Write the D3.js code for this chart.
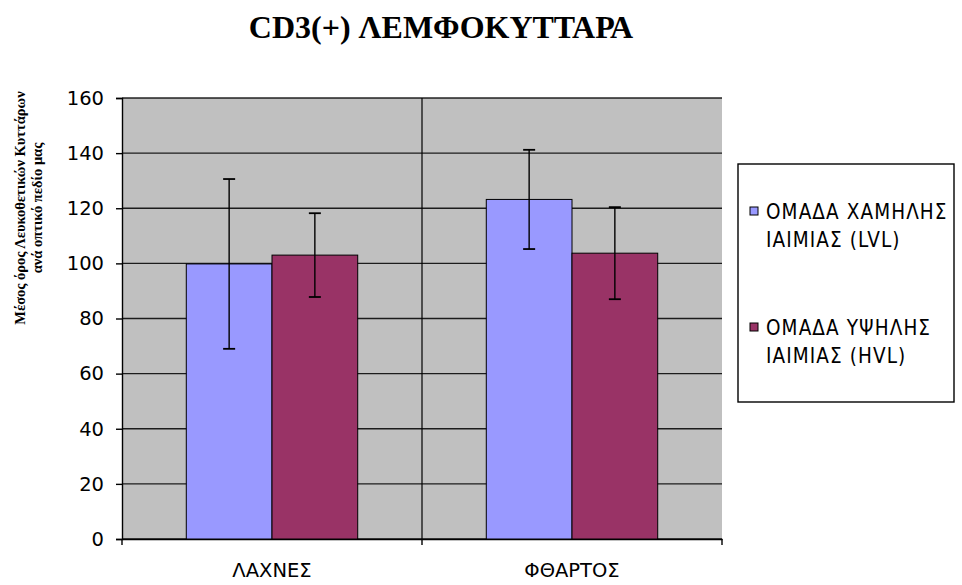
<!DOCTYPE html>
<html>
<head>
<meta charset="utf-8">
<script src="https://cdn.jsdelivr.net/npm/d3@7"></script>
<style>
  body { margin: 0; background: #fff; }
  svg { display: block; }
</style>
</head>
<body>
<div id="chart"></div>
<script>
// categories and series
const categories = ["ΛΑΧΝΕΣ", "ΦΘΑΡΤΟΣ"];
const seriesNames = [["ΟΜΑΔΑ ΧΑΜΗΛΗΣ", "ΙΑΙΜΙΑΣ (LVL)"], ["ΟΜΑΔΑ ΥΨΗΛΗΣ", "ΙΑΙΜΙΑΣ (HVL)"]];
const seriesColors = ["#9999ff", "#993366"];
const lvlMeans = [99.8, 123.2];
const lvlErrors = [30.8, 18.0];
const hvlMeans = [103.0, 103.7];
const hvlErrors = [15.2, 16.7];
const yTicks = [0, 20, 40, 60, 80, 100, 120, 140, 160];

const width = 962, height = 585;
const plot = { left: 122, right: 722, top: 98, bottom: 539 };
const sans = "'DejaVu Sans', Verdana, sans-serif";
const serif = "'Liberation Serif', 'Times New Roman', serif";

const svg = d3.select("#chart").append("svg")
  .attr("width", width).attr("height", height);

const x0 = d3.scaleBand().domain(categories)
  .range([plot.left, plot.right]).paddingInner(0).paddingOuter(0);
// gap width 150%: bars take 2 of 3.5 slots
const x1 = d3.scaleBand().domain([0, 1])
  .range([0, x0.bandwidth()]).paddingInner(0).paddingOuter(0.75);
const y = d3.scaleLinear().domain([0, 160]).range([plot.bottom, plot.top]);

// plot background
svg.append("rect")
  .attr("x", plot.left).attr("y", plot.top)
  .attr("width", plot.right - plot.left).attr("height", plot.bottom - plot.top)
  .attr("fill", "#c0c0c0");

// horizontal gridlines
svg.append("g").selectAll("line").data(yTicks).join("line")
  .attr("x1", plot.left).attr("x2", plot.right)
  .attr("y1", d => y(d)).attr("y2", d => y(d))
  .attr("stroke", "#000").attr("stroke-width", 1.4).attr("opacity", 0.85);

// vertical gridlines at category boundaries
svg.append("g").selectAll("line").data(categories.slice(1)).join("line")
  .attr("x1", d => x0(d)).attr("x2", d => x0(d))
  .attr("y1", plot.top).attr("y2", plot.bottom)
  .attr("stroke", "#000").attr("stroke-width", 1.4).attr("opacity", 0.85);

// y axis
const yAxis = svg.append("g")
  .attr("transform", `translate(${plot.left},0)`)
  .call(d3.axisLeft(y).tickValues(yTicks).tickSize(6).tickPadding(12));
yAxis.select(".domain").attr("stroke-width", 1.4);
yAxis.selectAll("line").attr("stroke-width", 1.4);
yAxis.selectAll("text")
  .attr("font-family", sans)
  .attr("font-size", 19.5).attr("fill", "#000");

// x axis
const xAxis = svg.append("g")
  .attr("transform", `translate(0,${plot.bottom})`)
  .call(d3.axisBottom(x0).tickSize(0).tickPadding(24));
xAxis.select(".domain").attr("stroke-width", 1.6);
xAxis.selectAll("text")
  .attr("font-family", sans)
  .attr("font-size", 19.5).attr("fill", "#000");
svg.append("g").selectAll("line")
  .data([plot.left, ...categories.slice(1).map(c => x0(c)), plot.right])
  .join("line")
  .attr("x1", d => d).attr("x2", d => d)
  .attr("y1", plot.bottom).attr("y2", plot.bottom + 6)
  .attr("stroke", "#000").attr("stroke-width", 1.4);

// bars
const rows = categories.map((c, i) => [
  { cat: c, s: 0, mean: lvlMeans[i], err: lvlErrors[i] },
  { cat: c, s: 1, mean: hvlMeans[i], err: hvlErrors[i] }
]).flat();

svg.append("g").selectAll("rect").data(rows).join("rect")
  .attr("x", d => x0(d.cat) + x1(d.s))
  .attr("y", d => y(d.mean))
  .attr("width", x1.bandwidth())
  .attr("height", d => y(0) - y(d.mean))
  .attr("fill", d => seriesColors[d.s])
  .attr("stroke", "#000").attr("stroke-width", 1);

// error bars
const eb = svg.append("g").selectAll("g").data(rows).join("g")
  .attr("transform", d => `translate(${x0(d.cat) + x1(d.s) + x1.bandwidth() / 2},0)`);
eb.append("line")
  .attr("y1", d => y(d.mean - d.err)).attr("y2", d => y(d.mean + d.err))
  .attr("stroke", "#000").attr("stroke-width", 1.4);
eb.selectAll("line.cap").data(d => [d.mean - d.err, d.mean + d.err]).join("line")
  .attr("class", "cap")
  .attr("x1", -6).attr("x2", 6)
  .attr("y1", v => y(v)).attr("y2", v => y(v))
  .attr("stroke", "#000").attr("stroke-width", 1.8);

// title
svg.append("text")
  .attr("x", 441).attr("y", 38)
  .attr("text-anchor", "middle")
  .attr("font-family", serif)
  .attr("font-weight", "bold").attr("font-size", 32)
  .text("CD3(+) ΛΕΜΦΟΚΥΤΤΑΡΑ");

// y axis title (two lines, rotated)
const yTitle = svg.append("text")
  .attr("transform", "translate(25,208) rotate(-90)")
  .attr("text-anchor", "middle")
  .attr("font-family", serif)
  .attr("font-weight", "bold").attr("font-size", 14.5);
yTitle.append("tspan").attr("x", 0).attr("dy", 0)
  .text("Μέσος όρος Λευκοθετικών Κυττάρων");
yTitle.append("tspan").attr("x", 0).attr("dy", 17)
  .text("ανά οπτικό πεδίο μας");

// legend
const legend = svg.append("g");
legend.append("rect")
  .attr("x", 738).attr("y", 164).attr("width", 216).attr("height", 238)
  .attr("fill", "#fff").attr("stroke", "#000").attr("stroke-width", 1.4);
const legendY = [211, 327];
const li = legend.selectAll("g.item").data(seriesNames).join("g")
  .attr("class", "item")
  .attr("transform", (d, i) => `translate(750,${legendY[i]})`);
li.append("rect")
  .attr("x", 0).attr("y", -4).attr("width", 8).attr("height", 8)
  .attr("fill", (d, i) => seriesColors[i])
  .attr("stroke", "#000").attr("stroke-width", 1);
li.selectAll("text").data(d => d).join("text")
  .attr("x", 16).attr("y", (d, j) => 8 + j * 28)
  .attr("font-family", "'DejaVu Sans Condensed', 'DejaVu Sans', sans-serif")
  .attr("font-size", 20.5).attr("letter-spacing", 1.1).attr("fill", "#000")
  .text(d => d);
</script>
</body>
</html>
